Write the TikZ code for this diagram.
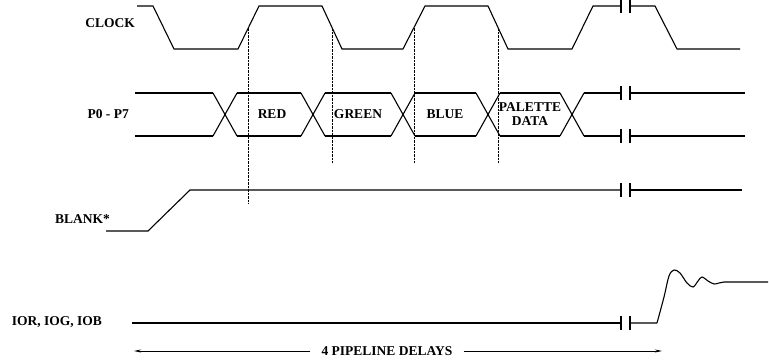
\documentclass[tikz,border=0pt]{standalone}
\usepackage{fontspec}
\setmainfont{Liberation Serif}
\usetikzlibrary{arrows.meta}
\begin{document}
\begin{tikzpicture}[x=1pt,y=-1pt,
    sig/.style={line width=1.1pt,line join=miter},
    guide/.style={line width=0.4pt,densely dotted},
    arr/.style={line width=0.9pt,-{Stealth[length=7pt,width=3pt]}},
    lbl/.style={font=\bfseries\fontsize{13.5}{14}\selectfont,anchor=east,inner sep=0pt},
    datalbl/.style={font=\bfseries\fontsize{13.5}{14}\selectfont,align=center,inner sep=0pt}]
    \useasboundingbox (0,0) rectangle (769,364);
    % signal names
    \node at (135,23) [lbl] (clk) {CLOCK};
    \node at (129,114) [lbl] (pix) {P0 - P7};
    \node at (110,219) [lbl] (blank) {BLANK*};
    \node at (102,322) [lbl] (dac) {IOR, IOG, IOB};
    % clock
    \draw [sig] (137,6) -- (153,6) -- (174,49) -- (238,49)
        -- coordinate[pos=.5] (e1) (259,6) -- (322,6)
        -- coordinate[pos=.5] (e2) (342,49) -- (403,49)
        -- coordinate[pos=.5] (e3) (425,6) -- (488,6)
        -- coordinate[pos=.5] (e4) (508,49) -- (572,49) -- (593,6) -- (621,6);
    \draw [sig] (630,6) -- (655,6) -- (677,49) -- (740,49);
    % pixel data
    \draw [sig] (135,93) -- (213,93) (135,136) -- (213,136);
    \foreach \c in {225,313,403,488,572}
        \draw [sig] (\c-12,93) -- (\c+12,136) (\c-12,136) -- (\c+12,93);
    \foreach \a/\b in {225/313,313/403,403/488,488/572}
        \draw [sig] (\a+12,93) -- (\b-12,93) (\a+12,136) -- (\b-12,136);
    \draw [sig] (584,93) -- (621,93) (584,136) -- (621,136);
    \draw [sig] (630,93) -- (745,93) (630,136) -- (745,136);
    \node at (272,114) [datalbl] (red) {RED};
    \node at (358,114) [datalbl] (green) {GREEN};
    \node at (445,114) [datalbl] (blue) {BLUE};
    \node at (530,114) [datalbl] (pal) {PALETTE\\DATA};
    % blank
    \draw [sig] (106,231) -- (148,231) -- (190,190) -- (621,190);
    \draw [sig] (630,190) -- (742,190);
    % dac outputs
    \draw [sig] (132,323) -- (621,323);
    \draw [sig] (630,323) -- (657,323)
        plot[smooth,tension=0.55] coordinates {(657,323) (664,297) (669,276) (674,270) (680,273) (687,283) (693,287) (698,281) (702,277) (708,281) (714,284) (719,283) (724,282)}
        -- (768,282);
    % breaks
    \foreach \y in {6,93,136,190,323}
        \draw [sig] (621,\y-7) -- (621,\y+7) (630,\y-7) -- (630,\y+7);
    % strobe lines
    \draw [guide] (e1) -- (e1 |- 0,203);
    \foreach \e in {e2,e3,e4}
        \draw [guide] (\e) -- (\e |- 0,162);
    % pipeline delay
    \node at (387,351) [datalbl] (delay) {4 PIPELINE DELAYS};
    \coordinate (dl) at (134,351);
    \coordinate (dr) at (662,351);
    \draw [arr] ([xshift=-11pt]delay.west) -- (dl);
    \draw [arr] ([xshift=11pt]delay.east) -- (dr);
\end{tikzpicture}
\end{document}
